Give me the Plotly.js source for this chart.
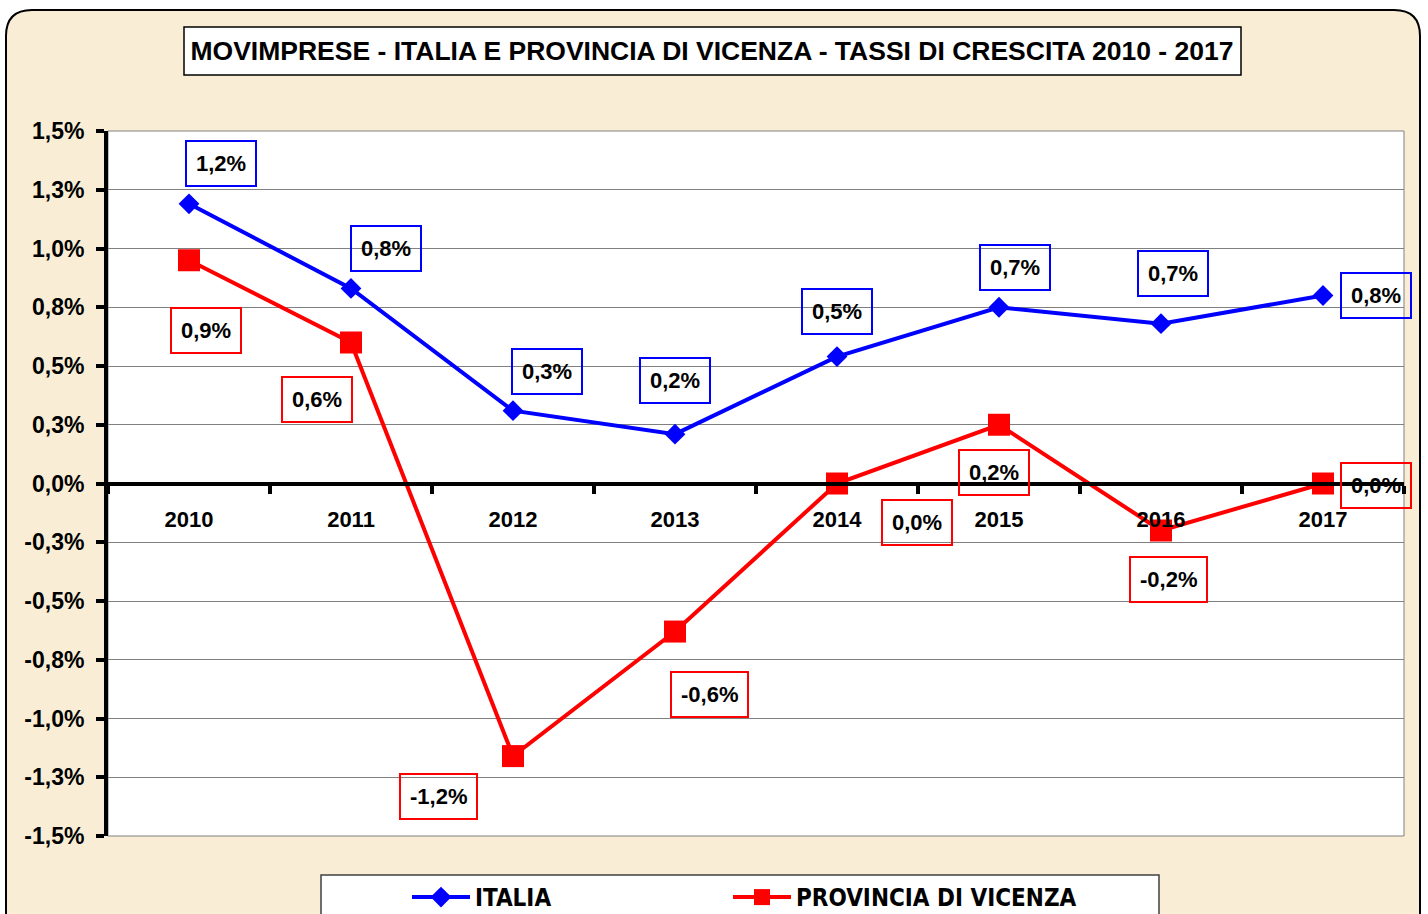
<!DOCTYPE html>
<html>
<head>
<meta charset="utf-8">
<script src="https://cdn.plot.ly/plotly-3.0.1.min.js"></script>
<style>
  html, body { margin: 0; padding: 0; background: #ffffff; }
  #chart { width: 1428px; height: 914px; }
</style>
</head>
<body>
<div id="chart"></div>
<script>
// ---- Data (values in %) ----
const years = ['2010', '2011', '2012', '2013', '2014', '2015', '2016', '2017'];
const italia = [1.19, 0.83, 0.31, 0.21, 0.54, 0.75, 0.68, 0.80];
const vicenza = [0.95, 0.60, -1.16, -0.63, 0.00, 0.25, -0.20, 0.00];
const italiaLabels = ['1,2%', '0,8%', '0,3%', '0,2%', '0,5%', '0,7%', '0,7%', '0,8%'];
const vicenzaLabels = ['0,9%', '0,6%', '-1,2%', '-0,6%', '0,0%', '0,2%', '-0,2%', '0,0%'];
const yTickVals = [-1.5, -1.25, -1.0, -0.75, -0.5, -0.25, 0, 0.25, 0.5, 0.75, 1.0, 1.25, 1.5];
const yTickText = ['-1,5%', '-1,3%', '-1,0%', '-0,8%', '-0,5%', '-0,3%', '0,0%', '0,3%', '0,5%', '0,8%', '1,0%', '1,3%', '1,5%'];
const seriesNames = ['ITALIA', 'PROVINCIA DI VICENZA'];
const chartTitle = 'MOVIMPRESE - ITALIA E PROVINCIA DI VICENZA - TASSI DI CRESCITA 2010 - 2017';

// ---- Label placement (pixel offsets from each point: [dx, dy], dy positive = down) ----
const italiaOffsets = [[32, -40], [35, -40], [34, -39], [0, -54], [0, -45], [16, -40], [12, -50], [53, 0]];
const vicenzaOffsets = [[17, 70], [-34, 57], [-75, 40], [34, 63], [80, 39], [-5, 48], [7, 49], [53, 2]];

// ---- Geometry helpers (pixel -> paper) ----
const W = 1428, H = 914;
const M = { l: 108, r: 24, t: 131, b: 78, autoexpand: false };
const PW = W - M.l - M.r, PH = H - M.t - M.b;
const px = v => (v - M.l) / PW;
const py = v => (H - M.b - v) / PH;

const FONT = 'Liberation Sans, Arial, sans-serif';
const NARROW = 'DejaVu Sans Condensed, Liberation Sans Narrow, sans-serif';

const traces = [
  {
    type: 'scatter', mode: 'lines+markers', name: seriesNames[0],
    x: years, y: italia,
    line: { color: '#0000ff', width: 4 },
    marker: { symbol: 'diamond', size: 16, color: '#0000ff' },
    legend: 'legend',
    hoverinfo: 'skip'
  },
  {
    type: 'scatter', mode: 'lines+markers', name: seriesNames[1],
    x: years, y: vicenza,
    line: { color: '#ff0000', width: 4 },
    marker: { symbol: 'square', size: 22, color: '#ff0000' },
    legend: 'legend2',
    hoverinfo: 'skip'
  }
];

function makeLabels(vals, labels, offsets, color) {
  return vals.map((v, i) => ({
    x: i, y: v, xref: 'x', yref: 'y',
    text: labels[i], showarrow: false,
    xanchor: 'center', yanchor: 'middle',
    xshift: offsets[i][0], yshift: -offsets[i][1],
    font: { family: FONT, size: 22, color: '#000000', weight: 700 },
    bordercolor: color, borderwidth: 2, borderpad: 9,
    bgcolor: 'rgba(0,0,0,0)'
  }));
}

// outer rounded frame
const fx0 = px(6), fx1 = px(1420), fyt = py(10), fyb = py(940);
const rx = 26 / PW, ry = 26 / PH;
const framePath = `M ${fx0},${fyb} L ${fx0},${fyt - ry} Q ${fx0},${fyt} ${fx0 + rx},${fyt} ` +
  `L ${fx1 - rx},${fyt} Q ${fx1},${fyt} ${fx1},${fyt - ry} L ${fx1},${fyb} Z`;

const legendCommon = {
  orientation: 'h',
  xref: 'paper', yref: 'paper',
  xanchor: 'left', yanchor: 'top',
  y: py(875),
  bgcolor: 'rgba(0,0,0,0)', borderwidth: 0,
  itemwidth: 58,
  font: { family: NARROW, size: 24, color: '#000000', weight: 700 },
  itemclick: false, itemdoubleclick: false
};

const layout = {
  width: W, height: H,
  margin: M,
  paper_bgcolor: '#ffffff',
  plot_bgcolor: '#ffffff',
  showlegend: true,
  title: {
    text: chartTitle,
    font: { family: FONT, size: 26.5, color: '#000000', weight: 700 },
    xref: 'paper', x: px(712), xanchor: 'center',
    yref: 'container', y: 1 - 51 / H, yanchor: 'middle'
  },
  xaxis: {
    type: 'category',
    range: [-0.5, 7.5], autorange: false,
    anchor: 'free', position: 0.5,
    showline: true, linecolor: '#000000', linewidth: 4,
    showgrid: false, zeroline: false,
    ticks: 'outside', tickson: 'boundaries', ticklen: 8, tickwidth: 4, tickcolor: '#000000',
    ticklabelstandoff: 15,
    tickangle: 0,
    tickfont: { family: FONT, size: 22, color: '#000000', weight: 700 },
    fixedrange: true
  },
  yaxis: {
    range: [-1.5, 1.5], autorange: false,
    tickvals: yTickVals, ticktext: yTickText,
    showline: true, linecolor: '#000000', linewidth: 4,
    showgrid: true, gridcolor: '#808080', gridwidth: 1,
    zeroline: false,
    ticks: 'outside', ticklen: 8, tickwidth: 4, tickcolor: '#000000',
    ticklabelstandoff: 7,
    tickfont: { family: FONT, size: 23, color: '#000000', weight: 700 },
    fixedrange: true
  },
  legend: Object.assign({}, legendCommon, { x: px(407) }),
  legend2: Object.assign({}, legendCommon, { x: px(728) }),
  shapes: [
    { type: 'path', xref: 'paper', yref: 'paper', path: framePath,
      fillcolor: '#f9eed5', line: { color: '#000000', width: 2 }, layer: 'below' },
    { type: 'rect', xref: 'paper', yref: 'paper', x0: 0, x1: 1, y0: 0, y1: 1,
      fillcolor: '#ffffff', line: { color: '#808080', width: 1 }, layer: 'below' },
    { type: 'rect', xref: 'paper', yref: 'paper',
      x0: px(184), x1: px(1241), y0: py(75), y1: py(27),
      fillcolor: '#ffffff', line: { color: '#000000', width: 1.5 }, layer: 'below' },
    { type: 'rect', xref: 'paper', yref: 'paper',
      x0: px(321), x1: px(1159), y0: py(960), y1: py(875),
      fillcolor: '#ffffff', line: { color: '#404040', width: 1.5 }, layer: 'below' }
  ],
  annotations: [].concat(
    makeLabels(italia, italiaLabels, italiaOffsets, '#0000ff'),
    makeLabels(vicenza, vicenzaLabels, vicenzaOffsets, '#ff0000')
  )
};

Plotly.newPlot('chart', traces, layout, { displayModeBar: false, staticPlot: true });
</script>
</body>
</html>
